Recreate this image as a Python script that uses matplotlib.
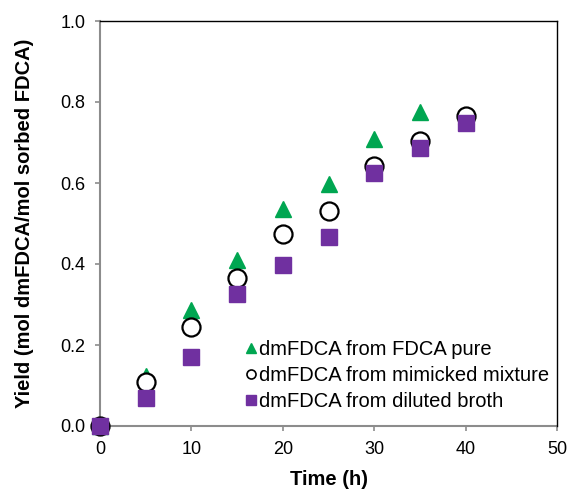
import matplotlib
matplotlib.use("Agg")
import matplotlib.pyplot as plt
from matplotlib.lines import Line2D

plt.rcParams['font.family'] = ['Liberation Sans', 'DejaVu Sans']

# ---------- data ----------
time_h = [0, 5, 10, 15, 20, 25, 30, 35, 40]
yield_pure = [0.0, 0.123, 0.286, 0.41, 0.536, 0.598, 0.708, 0.775, 0.765]
yield_mimicked = [0.0, 0.108, 0.245, 0.365, 0.473, 0.532, 0.642, 0.704, 0.765]
yield_broth = [0.0, 0.07, 0.171, 0.326, 0.398, 0.467, 0.625, 0.687, 0.749]

labels = ["dmFDCA from FDCA pure",
          "dmFDCA from mimicked mixture",
          "dmFDCA from diluted broth"]

GREEN = "#00a651"
PURPLE = "#7030a0"
GRAY = "#8c8c8c"

fig = plt.figure(figsize=(5.71, 4.91), dpi=100)
ax = fig.add_axes([100 / 571, 1 - 426 / 491, 457 / 571, 405 / 491])

ax.plot(time_h, yield_pure, linestyle="none", marker="^", markersize=11,
        color=GREEN, markeredgecolor=GREEN, zorder=3, clip_on=False)
ax.plot(time_h, yield_mimicked, linestyle="none", marker="o", markersize=13,
        markerfacecolor="white", markeredgecolor="black", markeredgewidth=1.6,
        zorder=4, clip_on=False)
ax.plot(time_h, yield_broth, linestyle="none", marker="s", markersize=11,
        color=PURPLE, markeredgecolor=PURPLE, zorder=5, clip_on=False)

ax.set_xlim(0, 50)
ax.set_ylim(0, 1.0)
ax.set_xticks(range(0, 51, 10))
ax.set_yticks([0.0, 0.2, 0.4, 0.6, 0.8, 1.0])
ax.set_yticklabels([f"{v:.1f}" for v in ax.get_yticks()])

for side in ["left", "bottom"]:
    ax.spines[side].set_color(GRAY)
    ax.spines[side].set_linewidth(1.5)
for side in ["top", "right"]:
    ax.spines[side].set_color("black")
    ax.spines[side].set_linewidth(1.0)
ax.spines["left"].set_zorder(1)
ax.spines["bottom"].set_zorder(1)

ax.tick_params(axis="both", direction="out", length=3.5, width=1.2, color=GRAY,
               labelsize=13, pad=7, top=False, right=False)

ax.set_xlabel("Time (h)", fontsize=14.5, fontweight="bold", labelpad=9)
ax.set_ylabel("Yield (mol dmFDCA/mol sorbed FDCA)", fontsize=14.5,
              fontweight="bold", labelpad=19)

handles = [
    Line2D([], [], linestyle="none", marker="^", markersize=7.5, color=GREEN),
    Line2D([], [], linestyle="none", marker="o", markersize=6.5,
           markerfacecolor="white", markeredgecolor="black", markeredgewidth=1.2),
    Line2D([], [], linestyle="none", marker="s", markersize=6.5, color=PURPLE),
]
ax.legend(handles, labels, loc="lower right", bbox_to_anchor=(1.01, 0.008),
          frameon=False, fontsize=14.5, handlelength=0.5, handletextpad=0.15,
          labelspacing=0.33, borderaxespad=0.2)

fig.savefig("out.png", dpi=100)
